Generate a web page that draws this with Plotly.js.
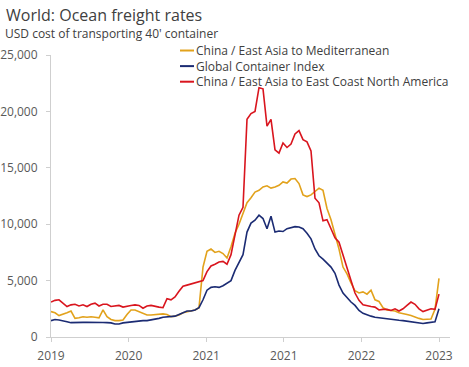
<!DOCTYPE html>
<html>
<head>
<meta charset="utf-8">
<script src="https://cdn.plot.ly/plotly-3.0.1.min.js"></script>
<style>html,body{margin:0;padding:0;background:#fff;}#chart{width:469px;height:367px;}</style>
</head>
<body>
<div id="chart"></div>
<script>
// Biweekly observations, Jan 2019 – Jan 2023 (USD per 40' container)
const seriesNames = [
  "China / East Asia to Mediterranean",
  "Global Container Index",
  "China / East Asia to East Coast North America"
];
const tickLabels = ["2019", "2020", "2021", "2021", "2022", "2023"];

const mediterranean = [
  2250,2150,1900,2000,2150,2300,1650,1700,1800,1750,
  1800,1750,1700,2400,1800,1550,1450,1450,1500,2000,
  2400,2400,2250,2100,1950,1950,2000,2000,2050,2000,
  1800,1850,1950,2150,2250,2300,2400,2600,6200,7600,
  7800,7500,7600,7400,7000,8000,9200,10000,11000,11900,
  12350,12850,13000,13300,13400,13200,13300,13450,13750,13650,
  14000,14050,13600,12600,12450,12600,12900,13200,13000,11400,
  10400,9200,7800,6200,5600,4800,4100,3900,4000,3800,
  4150,3300,3150,2600,2400,2350,2300,2150,2100,2000,
  1900,1750,1650,1550,1550,1600,2450,5200
];
const globalIndex = [
  1450,1550,1500,1450,1350,1270,1300,1270,1300,1300,
  1280,1300,1300,1280,1270,1250,1150,1150,1250,1300,
  1350,1400,1450,1450,1450,1500,1550,1650,1750,1800,
  1800,1850,2000,2150,2300,2300,2400,2600,3300,4150,
  4400,4450,4400,4550,4750,5000,5900,6600,7300,9300,
  10100,10350,10800,10500,9600,10700,9300,9400,9350,9600,
  9700,9780,9750,9600,9200,8700,7800,7200,6900,6500,
  6200,5650,4600,3900,3450,3100,2800,2350,2100,1950,
  1850,1750,1700,1650,1600,1520,1500,1480,1450,1400,
  1380,1330,1220,1200,1250,1300,1350,2500
];
const eastCoastNA = [
  3100,3250,3300,3000,2700,2850,2900,2750,2850,2700,
  2900,3000,2750,2900,2900,2700,2750,2800,2650,2750,
  2800,2850,2800,2550,2750,2800,2700,2650,2600,3400,
  3300,3550,4050,4500,4600,4700,4750,4850,5000,5800,
  6300,6450,6650,6700,6450,7300,8900,10800,11500,19300,
  19800,20000,22100,22000,18700,19300,16600,16300,17200,16800,
  17100,18000,18300,17500,17300,16500,12300,11900,10300,10400,
  9600,8800,8400,7200,6000,5000,3900,3250,2850,2750,
  2700,2650,2400,2450,2450,2350,2500,2300,2500,2800,
  3100,2900,2500,2250,2400,2500,2450,3800
];

const colors = ["#E2A21C", "#1B2B73", "#D9151E"];
const values = [mediterranean, globalIndex, eastCoastNA];
const n = mediterranean.length;
const xs = mediterranean.map((_, i) => i);

const traces = values.map((v, k) => ({
  type: "scatter", mode: "lines", name: seriesNames[k],
  x: xs, y: v,
  line: { color: colors[k], width: 1.6 },
  hoverinfo: "skip"
}));

const tickVals = tickLabels.map((_, k) => k * (n - 1) / (tickLabels.length - 1));

// compact legend: short line samples + one multi-line text block
const legRowsY = [1.0159, 0.9606, 0.9053];
const shapes = seriesNames.map((s, k) => ({
  type: "line", xref: "paper", yref: "paper",
  x0: 0.3233, x1: 0.3584, y0: legRowsY[k], y1: legRowsY[k],
  line: { color: colors[k], width: 2 }
}));
const annotations = [{
  text: seriesNames.join("<br>"), align: "left",
  xref: "paper", yref: "paper", x: 0.362, y: legRowsY[1],
  xanchor: "left", yanchor: "middle", showarrow: false, borderpad: 0,
  font: { family: "Open Sans, sans-serif", size: 12, color: "#404040" }
}, {
  text: "USD cost of transporting 40' container",
  xref: "paper", yref: "paper", x: -0.118, y: (337 - 34) / 282,
  xanchor: "left", yanchor: "middle", showarrow: false, borderpad: 0,
  font: { family: "Open Sans, sans-serif", size: 12, color: "#404040" }
}];

const axisCommon = {
  showline: true, linecolor: "#cfcfcf", linewidth: 1,
  ticks: "outside", ticklen: 4, tickcolor: "#cfcfcf",
  showgrid: false, zeroline: false,
  tickfont: { family: "Open Sans, sans-serif", size: 12, color: "#595959" }
};

const layout = {
  width: 469, height: 367,
  margin: { l: 51, r: 19, t: 55, b: 30 },
  paper_bgcolor: "#ffffff", plot_bgcolor: "#ffffff",
  showlegend: false,
  title: {
    text: "World: Ocean freight rates",
    xref: "container", yref: "container",
    x: 0.013, xanchor: "left", y: 1 - 15 / 367, yanchor: "middle",
    font: { family: "Open Sans, sans-serif", size: 16, color: "#404040" }
  },
  xaxis: Object.assign({}, axisCommon, {
    range: [0, 99.75], tickmode: "array", tickvals: tickVals, ticktext: tickLabels,
    ticklabelstandoff: 4
  }),
  yaxis: Object.assign({}, axisCommon, {
    range: [0, 25000], dtick: 5000, tick0: 0, tickformat: ",",
    ticklabelstandoff: 6
  }),
  shapes: shapes,
  annotations: annotations
};

Plotly.newPlot("chart", traces, layout, { displayModeBar: false, staticPlot: true });
</script>
</body>
</html>
